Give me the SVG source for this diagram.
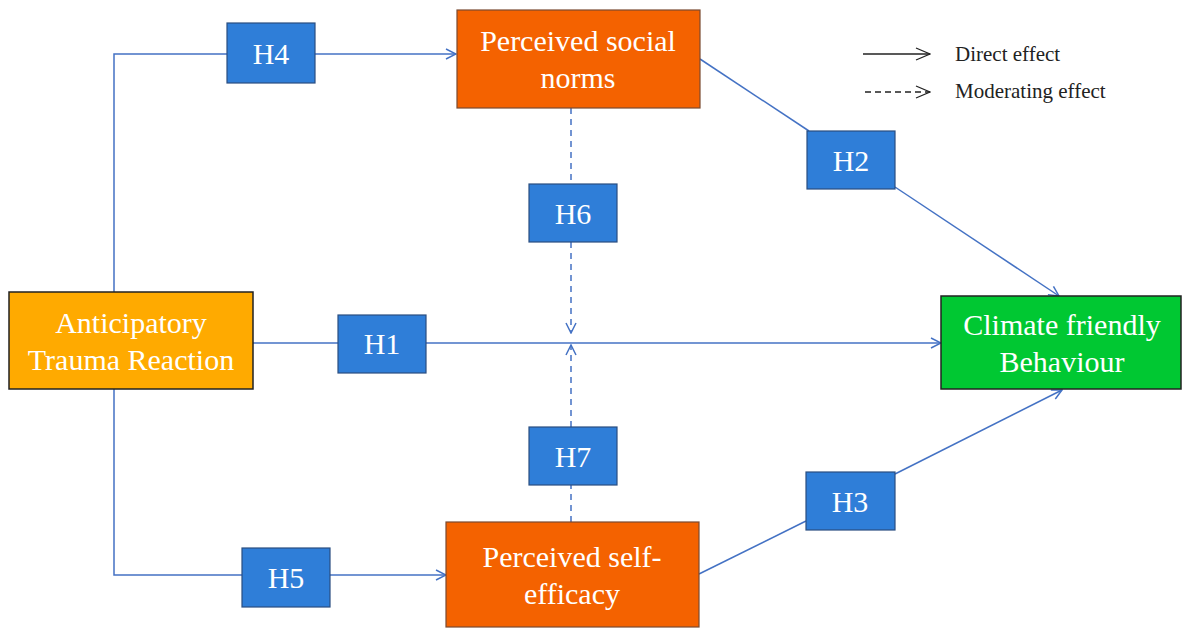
<svg xmlns="http://www.w3.org/2000/svg" width="1182" height="628" viewBox="0 0 1182 628">
<defs>
<marker id="ah" viewBox="0 0 12 12" refX="11" refY="6" markerWidth="12" markerHeight="12" markerUnits="userSpaceOnUse" orient="auto">
<path d="M1,1 L11,6 L1,11" fill="none" stroke="#4472C4" stroke-width="1.5"/>
</marker>
<marker id="ahk" viewBox="0 0 16 16" refX="15" refY="8" markerWidth="16" markerHeight="16" markerUnits="userSpaceOnUse" orient="auto">
<path d="M1,2 L15,8 L1,14" fill="none" stroke="#222" stroke-width="1.3"/>
</marker>
</defs>
<style>
.t{font-family:"Liberation Serif","Times New Roman",serif;font-size:30px;fill:#fff;text-anchor:middle}
.h{fill:#2F7ED8;stroke:#2A4E80;stroke-width:1.2}
.c{fill:none;stroke:#4472C4;stroke-width:1.5}
.d{fill:none;stroke:#4472C4;stroke-width:1.5;stroke-dasharray:6 5}
.lg{font-family:"Liberation Serif","Times New Roman",serif;font-size:21px;fill:#222}
</style>
<rect width="1182" height="628" fill="#fff"/>
<g id="connectors">
<polyline class="c" points="114,292 114,54 227,54"/>
<line class="c" x1="315" y1="54" x2="456" y2="54" marker-end="url(#ah)"/>
<polyline class="c" points="114,389 114,575 242,575"/>
<line class="c" x1="330" y1="575" x2="446" y2="575" marker-end="url(#ah)"/>
<line class="c" x1="253" y1="343" x2="338" y2="343"/>
<line class="c" x1="426" y1="343" x2="941" y2="343" marker-end="url(#ah)"/>
<line class="c" x1="700" y1="59" x2="809" y2="131"/>
<line class="c" x1="895" y1="187" x2="1059" y2="296" marker-end="url(#ah)"/>
<line class="c" x1="699" y1="574" x2="806" y2="521"/>
<line class="c" x1="895" y1="474" x2="1062" y2="390" marker-end="url(#ah)"/>
<line class="d" x1="571" y1="108" x2="571" y2="184"/>
<line class="d" x1="571" y1="242" x2="571" y2="333" marker-end="url(#ah)"/>
<line class="d" x1="571" y1="522" x2="571" y2="485"/>
<line class="d" x1="571" y1="427" x2="571" y2="345" marker-end="url(#ah)"/>
</g>
<g id="legend">
<line x1="863" y1="54" x2="930" y2="54" stroke="#222" stroke-width="1.3" marker-end="url(#ahk)"/>
<line x1="865" y1="92" x2="930" y2="92" stroke="#222" stroke-width="1.3" stroke-dasharray="6 4" marker-end="url(#ahk)"/>
<text class="lg" x="955" y="61">Direct effect</text>
<text class="lg" x="955" y="98">Moderating effect</text>
</g>
<g id="atr">
<rect x="9" y="292" width="244" height="97" fill="#FFAA00" stroke="#222" stroke-width="1.5"/>
<text class="t" x="131" y="333">Anticipatory</text>
<text class="t" x="131" y="370">Trauma Reaction</text>
</g>
<g id="psn">
<rect x="457" y="10" width="243" height="98" fill="#F46200" stroke="#7A4A30" stroke-width="1.2"/>
<text class="t" x="578" y="51">Perceived social</text>
<text class="t" x="578" y="88">norms</text>
</g>
<g id="pse">
<rect x="446" y="522" width="253" height="105" fill="#F46200" stroke="#7A4A30" stroke-width="1.2"/>
<text class="t" x="572" y="567">Perceived self-</text>
<text class="t" x="572" y="604">efficacy</text>
</g>
<g id="cfb">
<rect x="941" y="296" width="240" height="93" fill="#00C832" stroke="#222" stroke-width="1.5"/>
<text class="t" x="1062" y="335">Climate friendly</text>
<text class="t" x="1062" y="372">Behaviour</text>
</g>
<g id="h1"><rect class="h" x="338" y="315" width="88" height="58"/><text class="t" x="382" y="354">H1</text></g>
<g id="h2"><rect class="h" x="807" y="131" width="88" height="58"/><text class="t" x="851" y="171">H2</text></g>
<g id="h3"><rect class="h" x="806" y="472" width="89" height="58"/><text class="t" x="850" y="512">H3</text></g>
<g id="h4"><rect class="h" x="227" y="23" width="88" height="60"/><text class="t" x="271" y="64">H4</text></g>
<g id="h5"><rect class="h" x="242" y="548" width="88" height="59"/><text class="t" x="286" y="588">H5</text></g>
<g id="h6"><rect class="h" x="529" y="184" width="88" height="58"/><text class="t" x="573" y="224">H6</text></g>
<g id="h7"><rect class="h" x="529" y="427" width="88" height="58"/><text class="t" x="573" y="467">H7</text></g>
</svg>
